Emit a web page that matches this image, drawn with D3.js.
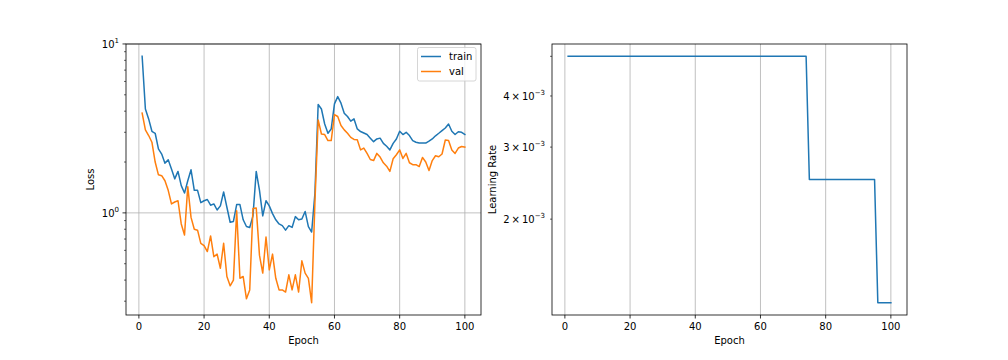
<!DOCTYPE html>
<html><head><meta charset="utf-8">
<script src="https://cdn.jsdelivr.net/npm/d3@7"></script>
<style>
html,body{margin:0;padding:0;background:#fff;}
svg text{font-family:"DejaVu Sans",sans-serif;fill:#000;}
</style></head>
<body><svg id="c" width="1008" height="360"></svg>
<script>
const epochs = d3.range(1, 101);
const trainLoss = [
 8.45, 4.12, 3.60, 3.04, 2.96, 2.39, 2.23, 1.97, 2.06, 1.82,
 1.59, 1.76, 1.45, 1.31, 1.55, 1.80, 1.36, 1.36, 1.15, 1.18,
 1.20, 1.11, 1.13, 1.04, 1.10, 1.33, 1.08, 0.88, 0.89, 1.12,
 1.12, 0.91, 0.83, 0.82, 0.96, 1.76, 1.36, 0.96, 1.18, 1.10,
 0.99, 0.91, 0.86, 0.84, 0.79, 0.84, 0.82, 0.95, 0.91, 0.92,
 1.02, 0.83, 0.77, 1.30, 4.38, 4.12, 3.36, 2.96, 3.14, 4.42,
 4.88, 4.46, 3.89, 3.72, 3.49, 3.60, 3.14, 3.03, 2.97, 2.91,
 2.77, 2.64, 2.74, 2.77, 2.58, 2.48, 2.36, 2.58, 2.74, 3.04,
 2.91, 3.00, 2.87, 2.68, 2.62, 2.59, 2.59, 2.59, 2.66, 2.74,
 2.86, 2.96, 3.07, 3.18, 3.36, 3.04, 2.91, 3.02, 3.00, 2.91];
const valLoss = [
 3.90, 3.10, 2.87, 2.62, 2.00, 1.68, 1.66, 1.55, 1.36, 1.13,
 1.16, 1.18, 0.86, 0.74, 1.43, 0.94, 0.80, 0.79, 0.66, 0.64,
 0.59, 0.73, 0.55, 0.57, 0.47, 0.66, 0.42, 0.37, 0.40, 1.03,
 0.41, 0.42, 0.31, 0.35, 1.06, 1.07, 0.56, 0.44, 0.72, 0.46,
 0.57, 0.41, 0.35, 0.35, 0.34, 0.43, 0.35, 0.43, 0.34, 0.52,
 0.44, 0.41, 0.294, 1.15, 3.55, 2.93, 2.91, 2.68, 2.68, 3.82,
 3.72, 3.29, 3.10, 2.96, 2.80, 2.72, 2.71, 2.36, 2.42, 2.25,
 2.07, 2.04, 2.25, 2.14, 1.98, 1.89, 1.76, 2.09, 2.21, 2.36,
 2.10, 2.25, 1.98, 1.93, 1.93, 1.88, 2.13, 2.00, 1.78, 2.04,
 2.18, 2.15, 2.23, 2.70, 2.68, 2.36, 2.25, 2.42, 2.47, 2.45];
const learningRate = [
 0.005,0.005,0.005,0.005,0.005,0.005,0.005,0.005,0.005,0.005,
 0.005,0.005,0.005,0.005,0.005,0.005,0.005,0.005,0.005,0.005,
 0.005,0.005,0.005,0.005,0.005,0.005,0.005,0.005,0.005,0.005,
 0.005,0.005,0.005,0.005,0.005,0.005,0.005,0.005,0.005,0.005,
 0.005,0.005,0.005,0.005,0.005,0.005,0.005,0.005,0.005,0.005,
 0.005,0.005,0.005,0.005,0.005,0.005,0.005,0.005,0.005,0.005,
 0.005,0.005,0.005,0.005,0.005,0.005,0.005,0.005,0.005,0.005,
 0.005,0.005,0.005,0.005,0.0025,0.0025,0.0025,0.0025,0.0025,0.0025,
 0.0025,0.0025,0.0025,0.0025,0.0025,0.0025,0.0025,0.0025,0.0025,0.0025,
 0.0025,0.0025,0.0025,0.0025,0.0025,0.00125,0.00125,0.00125,0.00125,0.00125];
const xTicks = [0, 20, 40, 60, 80, 100];
const lossMajorTicks = [{v: 1, m: "10", e: "0"}, {v: 10, m: "10", e: "1"}];
const lrTickLabels = [{v: 0.002, m: "2", e: "−3"}, {v: 0.003, m: "3", e: "−3"}, {v: 0.004, m: "4", e: "−3"}];
const seriesNames = ["train", "val"];
const colors = ["#1f77b4", "#ff7f0e"];

const svg = d3.select("#c");
const plotTop = 44, plotBottom = 315;

function logDomain(vals) {
  const lo = Math.log10(d3.min(vals)), hi = Math.log10(d3.max(vals));
  const p = (hi - lo) * 0.05;
  return [Math.pow(10, lo - p), Math.pow(10, hi + p)];
}
function linDomain(vals) {
  const lo = d3.min(vals), hi = d3.max(vals), p = (hi - lo) * 0.05;
  return [lo - p, hi + p];
}
function supLabel(sel, m, e, times) {
  sel.append("tspan").text(times ? m + "\u2009×\u200910" : m);
  sel.append("tspan").attr("dy", -5).attr("font-size", 7).text(e);
}

function panel(x0, x1, yVals, opts) {
  const g = svg.append("g");
  const x = d3.scaleLinear().domain(linDomain(epochs)).range([x0, x1]);
  const y = d3.scaleLog().domain(logDomain(yVals)).range([plotBottom, plotTop]);
  const [d0, d1] = y.domain();
  g.selectAll(".gx").data(xTicks).join("line")
    .attr("x1", d => x(d)).attr("x2", d => x(d)).attr("y1", plotTop).attr("y2", plotBottom)
    .attr("stroke", "#b0b0b0").attr("stroke-width", 0.8);
  const majors = opts.majors.filter(t => t.v >= d0 && t.v <= d1 * 1.002);
  g.selectAll(".gy").data(majors).join("line")
    .attr("x1", x0).attr("x2", x1).attr("y1", d => y(d.v)).attr("y2", d => y(d.v))
    .attr("stroke", "#b0b0b0").attr("stroke-width", 0.8);
  opts.series.forEach(s => {
    g.append("path").datum(s.vals)
      .attr("d", d3.line().x((d, j) => x(epochs[j])).y(d => y(d)))
      .attr("fill", "none").attr("stroke", s.color).attr("stroke-width", 1.5)
      .attr("stroke-linejoin", "round").attr("stroke-linecap", "square");
  });
  g.append("rect").attr("x", x0).attr("y", plotTop).attr("width", x1 - x0).attr("height", plotBottom - plotTop)
    .attr("fill", "none").attr("stroke", "#000").attr("stroke-width", 0.8);
  g.selectAll(".xt").data(xTicks).join("line")
    .attr("x1", d => x(d)).attr("x2", d => x(d)).attr("y1", plotBottom).attr("y2", plotBottom + 3.5)
    .attr("stroke", "#000").attr("stroke-width", 0.8);
  g.selectAll(".xl").data(xTicks).join("text")
    .attr("x", d => x(d)).attr("y", plotBottom + 15).attr("text-anchor", "middle").attr("font-size", 10)
    .text(d => d);
  g.append("text").attr("x", (x0 + x1) / 2).attr("y", 344).attr("text-anchor", "middle")
    .attr("font-size", 10).text("Epoch");
  const minors = [];
  for (let ex = Math.floor(Math.log10(d0)); ex <= Math.ceil(Math.log10(d1)); ex++) {
    for (let k = 2; k <= 9; k++) {
      const v = k * Math.pow(10, ex);
      if (v >= d0 && v <= d1) minors.push(v);
    }
  }
  g.selectAll(".ym").data(minors).join("line")
    .attr("x1", x0 - 2).attr("x2", x0).attr("y1", d => y(d)).attr("y2", d => y(d))
    .attr("stroke", "#000").attr("stroke-width", 0.6);
  g.selectAll(".yM").data(majors).join("line")
    .attr("x1", x0 - 3.5).attr("x2", x0).attr("y1", d => y(d.v)).attr("y2", d => y(d.v))
    .attr("stroke", "#000").attr("stroke-width", 0.8);
  const labs = majors.concat(opts.labels.filter(t => t.v >= d0 && t.v <= d1));
  labs.forEach(t => {
    const tx = g.append("text").attr("x", x0 - 7).attr("y", y(t.v) + 4)
      .attr("text-anchor", "end").attr("font-size", 10);
    supLabel(tx, t.m, t.e, opts.times);
  });
  g.append("text").attr("transform", `translate(${opts.ylx},${(plotTop + plotBottom) / 2}) rotate(-90)`)
    .attr("text-anchor", "middle").attr("font-size", 10).text(opts.ylabel);
  return {g, x, y};
}

panel(126, 481, trainLoss.concat(valLoss), {
  majors: lossMajorTicks, labels: [], times: false, ylabel: "Loss", ylx: 94,
  series: [{vals: trainLoss, color: colors[0]}, {vals: valLoss, color: colors[1]}]
});
panel(552, 907, learningRate, {
  majors: [], labels: lrTickLabels, times: true, ylabel: "Learning Rate", ylx: 496,
  series: [{vals: learningRate, color: colors[0]}]
});

const lg = svg.append("g");
lg.append("rect").attr("x", 417.5).attr("y", 47.5).attr("width", 58.5).attr("height", 33.5)
  .attr("rx", 2).attr("fill", "#fff").attr("fill-opacity", 0.8)
  .attr("stroke", "#cccccc").attr("stroke-width", 0.8);
seriesNames.forEach((n, i) => {
  const yy = 56.5 + i * 15;
  lg.append("line").attr("x1", 421).attr("x2", 441).attr("y1", yy).attr("y2", yy)
    .attr("stroke", colors[i]).attr("stroke-width", 1.5);
  lg.append("text").attr("x", 449).attr("y", yy + 3.5).attr("font-size", 10).text(n);
});
</script></body></html>
